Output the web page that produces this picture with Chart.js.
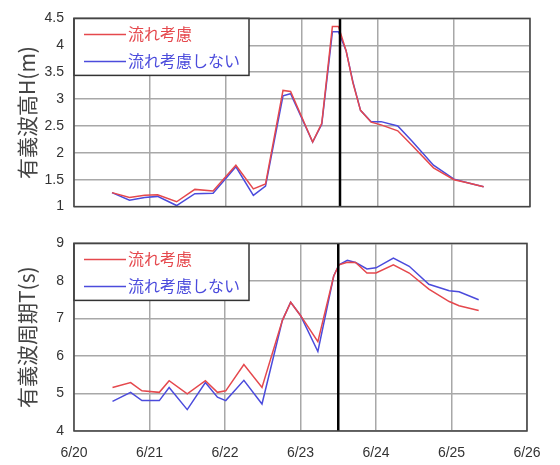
<!DOCTYPE html>
<html>
<head>
<meta charset="utf-8">
<script src="https://cdn.jsdelivr.net/npm/chart.js@4"></script>
<style>
  body { margin: 0; background: #fff; }
  #wrap { position: relative; width: 560px; height: 465px; }
  canvas { position: absolute; left: 0; }
  #heightChart { top: 0; }
  #periodChart { top: 225px; }
</style>
</head>
<body>
<div id="wrap">
  <canvas id="heightChart" width="560" height="225"></canvas>
  <canvas id="periodChart" width="560" height="240"></canvas>
</div>
<script>
// x values are days counted from 6/20 00:00
const dateLabels = ['6/20', '6/21', '6/22', '6/23', '6/24', '6/25', '6/26'];
const heightTicks = [1, 1.5, 2, 2.5, 3, 3.5, 4, 4.5];
const periodTicks = [4, 5, 6, 7, 8, 9];
const seriesNames = ['流れ考慮', '流れ考慮しない'];
const markerDay = 3.5;

const heightDays = [0.50, 0.73, 0.93, 1.10, 1.35, 1.59, 1.83, 2.13, 2.36, 2.52, 2.75, 2.85, 3.14, 3.26,
                    3.40, 3.48, 3.58, 3.67, 3.77, 3.91, 4.04, 4.26, 4.44, 4.73, 5.00, 5.19, 5.39];
const heightWithFlow = [1.26, 1.17, 1.21, 1.22, 1.09, 1.32, 1.29, 1.77, 1.33, 1.42, 3.16, 3.14, 2.20, 2.55,
                        4.35, 4.35, 3.90, 3.30, 2.79, 2.57, 2.52, 2.41, 2.15, 1.72, 1.50, 1.44, 1.37];
const heightNoFlow = [1.26, 1.12, 1.17, 1.19, 1.02, 1.24, 1.25, 1.74, 1.21, 1.38, 3.06, 3.10, 2.20, 2.53,
                      4.25, 4.25, 3.90, 3.32, 2.79, 2.58, 2.58, 2.50, 2.23, 1.77, 1.51, 1.44, 1.37];

const periodDays = [0.51, 0.75, 0.90, 1.13, 1.26, 1.50, 1.74, 1.90, 2.01, 2.25, 2.49, 2.76, 2.87, 3.00,
                    3.23, 3.44, 3.51, 3.62, 3.73, 3.88, 4.00, 4.23, 4.44, 4.70, 4.97, 5.10, 5.36];
const periodWithFlow = [5.16, 5.29, 5.07, 5.03, 5.34, 4.99, 5.34, 5.03, 5.07, 5.77, 5.16, 6.95, 7.43, 7.08,
                        6.38, 8.13, 8.43, 8.50, 8.49, 8.21, 8.21, 8.43, 8.21, 7.78, 7.45, 7.34, 7.21];
const periodNoFlow = [4.79, 5.03, 4.81, 4.81, 5.16, 4.57, 5.29, 4.90, 4.81, 5.35, 4.72, 6.95, 7.43, 7.08,
                      6.12, 8.13, 8.43, 8.55, 8.49, 8.32, 8.35, 8.61, 8.39, 7.91, 7.74, 7.71, 7.50];

const RED = '#e5484d';
const BLUE = '#4b4bdc';
const GRID = '#a8a8a8';
const tickFont = { family: '"Liberation Sans", Arial, sans-serif', size: 14 };
const jpFont = '"Noto Sans CJK JP", sans-serif';

function toPoints(days, values) {
    return days.map((d, i) => ({ x: d, y: values[i] }));
}

// frame, black marker line and the boxed legend
const framePlugin = {
    id: 'frameAndLegend',
    afterDatasetsDraw(chart) {
        const { ctx, chartArea: a, scales } = chart;
        const mx = scales.x.getPixelForValue(markerDay);
        ctx.save();
        ctx.strokeStyle = '#000';
        ctx.lineWidth = 2.5;
        ctx.beginPath();
        ctx.moveTo(mx, a.top);
        ctx.lineTo(mx, a.bottom);
        ctx.stroke();

        // legend box
        const bx = a.left, by = a.top, bw = 175, bh = 57;
        ctx.fillStyle = '#fff';
        ctx.fillRect(bx, by, bw, bh);
        ctx.strokeStyle = '#333';
        ctx.lineWidth = 1.5;
        ctx.strokeRect(bx, by, bw, bh);
        ctx.font = '16px ' + jpFont;
        ctx.textBaseline = 'middle';
        chart.data.datasets.forEach((ds, i) => {
            const y = by + 16 + i * 27;
            ctx.strokeStyle = ds.borderColor;
            ctx.lineWidth = 1.5;
            ctx.beginPath();
            ctx.moveTo(bx + 10, y);
            ctx.lineTo(bx + 52, y);
            ctx.stroke();
            ctx.fillStyle = ds.borderColor;
            ctx.fillText(ds.label, bx + 54, y);
        });

        ctx.strokeStyle = '#444';
        ctx.lineWidth = 1.5;
        ctx.strokeRect(a.left, a.top, a.right - a.left, a.bottom - a.top);
        ctx.restore();
    }
};

function makeChart(canvasId, days, withFlow, noFlow, yTicks, yTitle, cfg) {
    return new Chart(document.getElementById(canvasId), {
        type: 'line',
        data: {
            datasets: [
                { label: seriesNames[0], data: toPoints(days, withFlow), borderColor: RED, borderWidth: 1.5 },
                { label: seriesNames[1], data: toPoints(days, noFlow), borderColor: BLUE, borderWidth: 1.5 }
            ]
        },
        options: {
            responsive: false,
            animation: false,
            layout: { padding: { top: cfg.top, right: cfg.right, left: 0, bottom: 0 } },
            elements: { point: { radius: 0 }, line: { tension: 0 } },
            plugins: { legend: { display: false }, tooltip: { enabled: false } },
            scales: {
                x: {
                    type: 'linear',
                    min: 0,
                    max: dateLabels.length - 1,
                    afterBuildTicks: scale => { scale.ticks = dateLabels.map((_, i) => ({ value: i })); },
                    afterFit: scale => { scale.height = cfg.xHeight; },
                    grid: { color: GRID, lineWidth: 1.5, drawTicks: false },
                    border: { display: false },
                    ticks: {
                        display: cfg.showDates,
                        padding: 14,
                        color: '#333',
                        font: tickFont,
                        callback: v => dateLabels[v]
                    }
                },
                y: {
                    min: yTicks[0],
                    max: yTicks[yTicks.length - 1],
                    afterBuildTicks: scale => { scale.ticks = yTicks.map(v => ({ value: v })); },
                    afterFit: scale => { scale.width = 74; },
                    grid: { color: GRID, lineWidth: 1.5, drawTicks: false },
                    border: { display: false },
                    ticks: { padding: 10, color: '#333', font: tickFont, callback: v => String(v) },
                    title: {
                        display: true,
                        text: yTitle,
                        color: '#444',
                        font: { family: jpFont, size: 21 },
                        padding: { top: 14, bottom: 0 }
                    }
                }
            }
        },
        plugins: [framePlugin]
    });
}

makeChart('heightChart', heightDays, heightWithFlow, heightNoFlow, heightTicks, '有義波高H(m)',
    { top: 18, right: 30, xHeight: 8, showDates: false });
makeChart('periodChart', periodDays, periodWithFlow, periodNoFlow, periodTicks, '有義波周期T(s)',
    { top: 15, right: 33, xHeight: 34, showDates: true });
</script>
</body>
</html>
